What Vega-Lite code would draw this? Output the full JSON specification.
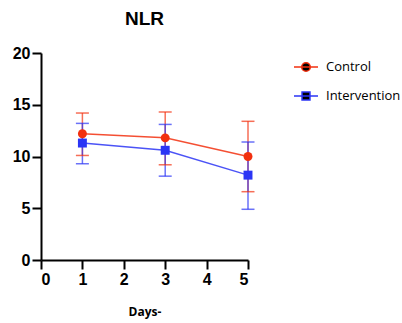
{
  "$schema": "https://vega.github.io/schema/vega-lite/v6.json",
  "autosize": "none",
  "width": 207,
  "height": 207,
  "padding": {"left": 41, "top": 53, "right": 154, "bottom": 63},
  "background": "white",
  "title": {"text": "NLR", "fontSize": 19, "fontWeight": "bold", "font": "Liberation Sans", "color": "black", "anchor": "middle", "offset": 16},
  "data": {"values": [
    {"group": "Control", "day": 1, "mean": 12.2, "lo": 10.1, "hi": 14.2},
    {"group": "Control", "day": 3, "mean": 11.8, "lo": 9.2, "hi": 14.3},
    {"group": "Control", "day": 5, "mean": 10.0, "lo": 6.6, "hi": 13.4},
    {"group": "Intervention", "day": 1, "mean": 11.3, "lo": 9.3, "hi": 13.2},
    {"group": "Intervention", "day": 3, "mean": 10.6, "lo": 8.1, "hi": 13.1},
    {"group": "Intervention", "day": 5, "mean": 8.2, "lo": 4.9, "hi": 11.4}
  ]},
  "config": {
    "view": {"stroke": null},
    "axis": {"grid": false, "domainColor": "black", "domainWidth": 2, "tickColor": "black", "tickWidth": 2, "tickSize": 9, "labelFont": "Liberation Sans", "labelFontWeight": "bold", "labelFontSize": 16, "labelColor": "black", "titleFont": "Open Sans", "titleFontWeight": "bold", "titleFontSize": 12, "titleColor": "black"},
    "legend": {"orient": "none", "legendX": 252, "legendY": 1, "padding": 0, "symbolSize": 576, "symbolOpacity": 1, "symbolStrokeWidth": 1.5, "labelFont": "Open Sans", "labelFontSize": 13, "labelColor": "black", "labelOffset": 7, "rowPadding": 8}
  },
  "encoding": {
    "x": {"field": "day", "type": "quantitative", "scale": {"domain": [0, 5], "nice": false}, "axis": {"values": [0, 1, 2, 3, 4, 5], "format": "d", "title": "Days-", "titlePadding": 19, "labelPadding": 2}},
    "y": {"field": "mean", "type": "quantitative", "scale": {"domain": [0, 20], "nice": false}, "axis": {"values": [0, 5, 10, 15, 20], "title": null, "labelPadding": 2}}
  },
  "layer": [
    {
      "mark": {"type": "rule", "strokeWidth": 1.5, "opacity": 0.7},
      "encoding": {
        "y": {"field": "lo", "type": "quantitative"},
        "y2": {"field": "hi"},
        "color": {"field": "group", "type": "nominal", "scale": {"domain": ["Control", "Intervention"], "range": ["#f2300f", "#2b35f5"]}, "legend": null}
      }
    },
    {
      "mark": {"type": "tick", "thickness": 1.5, "size": 13, "orient": "horizontal", "opacity": 0.7},
      "encoding": {
        "y": {"field": "lo", "type": "quantitative"},
        "color": {"field": "group", "type": "nominal", "legend": null}
      }
    },
    {
      "mark": {"type": "tick", "thickness": 1.5, "size": 13, "orient": "horizontal", "opacity": 0.7},
      "encoding": {
        "y": {"field": "hi", "type": "quantitative"},
        "color": {"field": "group", "type": "nominal", "legend": null}
      }
    },
    {
      "mark": {"type": "line", "strokeWidth": 1.5, "opacity": 0.85},
      "encoding": {
        "color": {"field": "group", "type": "nominal", "legend": null}
      }
    },
    {
      "mark": {"type": "point", "filled": true, "opacity": 1, "size": 80},
      "encoding": {
        "color": {"field": "group", "type": "nominal", "legend": null},
        "shape": {"field": "group", "type": "nominal", "scale": {"domain": ["Control", "Intervention"], "range": ["circle", "square"]}, "legend": null}
      }
    },
    {
      "mark": {"type": "point", "filled": true, "opacity": 0, "size": 576, "strokeWidth": 1.5},
      "encoding": {
        "color": {"field": "group", "type": "nominal", "title": null},
        "shape": {"field": "group", "type": "nominal", "scale": {"domain": ["Control", "Intervention"], "range": ["M-1,0L1,0M-0.36,0A0.36,0.36,0,1,0,0.36,0A0.36,0.36,0,1,0,-0.36,0Z", "M-1,0L1,0M-0.33,-0.33L0.33,-0.33L0.33,0.33L-0.33,0.33Z"]}, "title": null},
        "stroke": {"field": "group", "type": "nominal", "scale": {"domain": ["Control", "Intervention"], "range": ["#f2300f", "#2b35f5"]}, "title": null}
      }
    }
  ],
  "resolve": {"scale": {"shape": "independent", "stroke": "independent"}}
}
